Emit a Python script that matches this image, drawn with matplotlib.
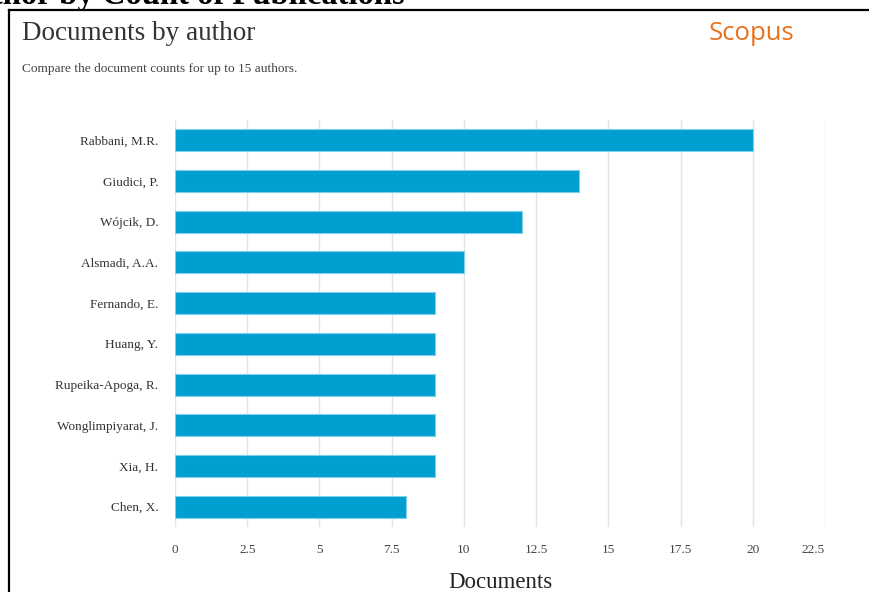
import matplotlib
matplotlib.use("Agg")
import matplotlib.pyplot as plt
from matplotlib.lines import Line2D

authors = ["Rabbani, M.R.", "Giudici, P.", "Wójcik, D.", "Alsmadi, A.A.", "Fernando, E.",
           "Huang, Y.", "Rupeika-Apoga, R.", "Wonglimpiyarat, J.", "Xia, H.", "Chen, X."]
documents = [20, 14, 12, 10, 9, 9, 9, 9, 9, 8]
xticks = [0, 2.5, 5, 7.5, 10, 12.5, 15, 17.5, 20, 22.5]
xtick_labels = ["0", "2.5", "5", "7.5", "10", "12.5", "15", "17.5", "20", "22.5"]

W, H = 870, 592
fig = plt.figure(figsize=(W / 100, H / 100), dpi=100)
serif = "Liberation Serif"

def fx(px):
    return px / W

def fy(py):
    return 1 - py / H

# axes: left 175, right 825, top 120, bottom 527
ax = fig.add_axes([fx(175), fy(527), (825 - 175) / W, (527 - 120) / H])

y = list(range(len(authors)))
ax.barh(y, documents, height=0.54, color="#009fd1", edgecolor="#7fd0ea", linewidth=0.8, zorder=3)
ax.set_ylim(len(authors) - 0.5, -0.5)
ax.set_xlim(0, 22.5)
ax.set_xticks(xticks)
ax.set_xticklabels(xtick_labels, fontfamily=serif, fontsize=9.5, color="#444444")
labs = ax.get_xticklabels()
labs[-1].set_ha("right")
ax.set_yticks(y)
ax.set_yticklabels(authors, fontfamily=serif, fontsize=9.5, color="#333333")
ax.tick_params(axis="x", length=0, pad=12)
ax.tick_params(axis="y", length=0, pad=12)
ax.grid(axis="x", color="#e3e3e8", linewidth=1, zorder=0)
for s in ax.spines.values():
    s.set_visible(False)
ax.axvline(0, color="#d8d8e4", linewidth=1.2, zorder=1)
ax.set_xlabel("Documents", fontfamily=serif, fontsize=16.5, color="#222222", labelpad=12)

# box border
fig.add_artist(Line2D([fx(9), fx(870)], [fy(10), fy(10)], color="black", linewidth=1.6))
fig.add_artist(Line2D([fx(9), fx(9)], [fy(10), fy(592)], color="black", linewidth=1.6))

# cropped outer title
fig.text(fx(405), fy(4), "Author by Count of Publications", ha="right", va="baseline",
         fontfamily=serif, fontweight="bold", fontsize=23.5, color="black")

fig.text(fx(22), fy(33), "Documents by author", ha="left", va="center",
         fontfamily=serif, fontsize=19.5, color="#333333")
fig.text(fx(22), fy(69), "Compare the document counts for up to 15 authors.", ha="left", va="center",
         fontfamily=serif, fontsize=9.6, color="#444444")
fig.text(fx(751), fy(34), "Scopus", ha="center", va="center",
         fontfamily="Open Sans", fontsize=18.5, color="#e9711c")

fig.savefig("out.png", dpi=100)
